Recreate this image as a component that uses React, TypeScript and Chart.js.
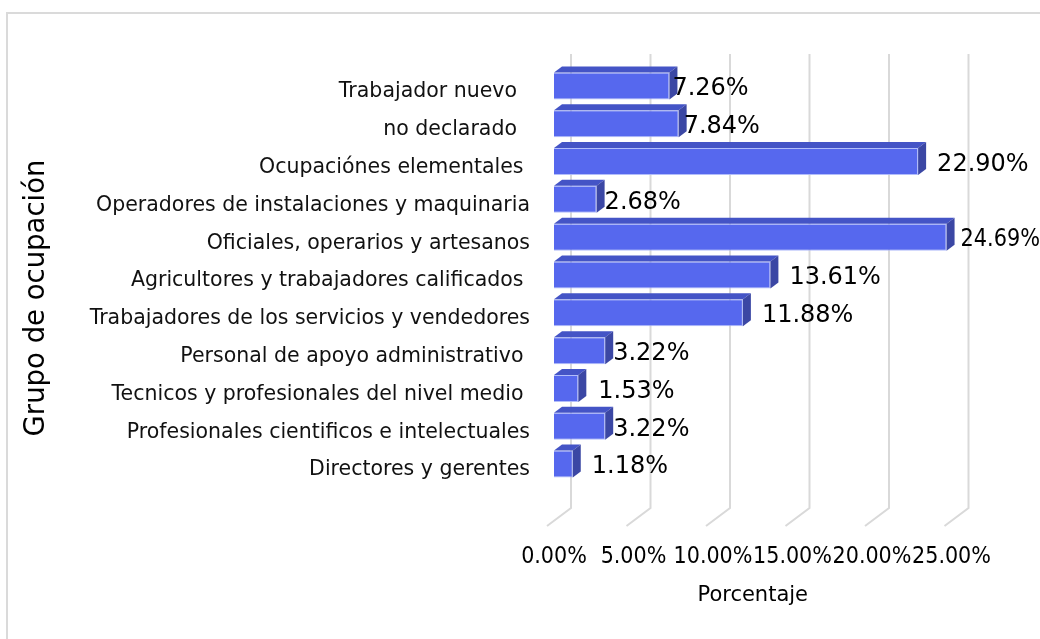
import { useEffect, useRef } from 'react';
import { Chart, registerables } from 'chart.js';

Chart.register(...registerables);

const categories = [
  'Trabajador nuevo  ',
  'no declarado  ',
  'Ocupaciónes elementales ',
  'Operadores de instalaciones y maquinaria',
  'Oficiales, operarios y artesanos',
  'Agricultores y trabajadores calificados ',
  'Trabajadores de los servicios y vendedores',
  'Personal de apoyo administrativo ',
  'Tecnicos y profesionales del nivel medio ',
  'Profesionales cientificos e intelectuales',
  'Directores y gerentes',
];

const percentages = [7.26, 7.84, 22.9, 2.68, 24.69, 13.61, 11.88, 3.22, 1.53, 3.22, 1.18];

const xTickValues = [0, 5, 10, 15, 20, 25];

const xTitle = 'Porcentaje';
const yTitle = 'Grupo de ocupación';

// label spacing after each bar end (style, mimics the reference's label placement)
const labelGap = [3, 5, 19, 8, 14, 19, 19, 8, 20, 8, 19];

const FRONT = '#5668EE';
const TOP = '#4454C6';
const SIDE = '#3B47A4';
const DX = 8;
const DY = 6;

const depthPlugin = {
  id: 'depth3d',
  beforeDatasetsDraw(chart: any) {
    const { ctx, chartArea, scales } = chart;
    const xs = scales.x;
    ctx.save();
    ctx.strokeStyle = '#d9d9d9';
    ctx.lineWidth = 2;
    xs.ticks.forEach((t: any) => {
      const xf = xs.getPixelForValue(t.value);
      const xb = xf + 17;
      ctx.beginPath();
      ctx.moveTo(xb, chartArea.top - 13);
      ctx.lineTo(xb, chartArea.bottom + 25);
      ctx.lineTo(xf - 7, chartArea.bottom + 43);
      ctx.stroke();
    });
    ctx.restore();
  },
  afterDatasetsDraw(chart: any) {
    const { ctx } = chart;
    const meta = chart.getDatasetMeta(0);
    ctx.save();
    meta.data.forEach((bar: any) => {
      const { x, y, base, height } = bar.getProps(['x', 'y', 'base', 'height'], true);
      const top = y - height / 2;
      const bottom = y + height / 2;
      ctx.fillStyle = TOP;
      ctx.beginPath();
      ctx.moveTo(base, top);
      ctx.lineTo(base + DX, top - DY);
      ctx.lineTo(x + DX, top - DY);
      ctx.lineTo(x, top);
      ctx.closePath();
      ctx.fill();
      ctx.fillStyle = SIDE;
      ctx.beginPath();
      ctx.moveTo(x, top);
      ctx.lineTo(x + DX, top - DY);
      ctx.lineTo(x + DX, bottom - DY);
      ctx.lineTo(x, bottom);
      ctx.closePath();
      ctx.fill();
    });
    ctx.fillStyle = '#000000';
    ctx.font = '24px "DejaVu Sans"';
    ctx.textBaseline = 'middle';
    ctx.textAlign = 'left';
    meta.data.forEach((bar: any, i: number) => {
      const { x, y } = bar.getProps(['x', 'y'], true);
      const v = chart.data.datasets[0].data[i] as number;
      const lx = x + labelGap[i];
      const txt = v.toFixed(2) + '%';
      const maxW = chart.width - lx;
      ctx.fillText(txt, lx, y + 3, maxW);
    });
    // y axis title
    ctx.save();
    ctx.translate(37, 298);
    ctx.rotate(-Math.PI / 2);
    ctx.textAlign = 'center';
    ctx.textBaseline = 'middle';
    ctx.font = '27.5px "DejaVu Sans"';
    ctx.fillStyle = '#000000';
    ctx.fillText(yTitle, 0, 0);
    ctx.restore();
    ctx.restore();
  },
};

export default function App() {
  const ref = useRef<HTMLCanvasElement | null>(null);
  useEffect(() => {
    document.body.style.margin = '0';
    const canvas = ref.current;
    if (!canvas) return;
    const chart = new Chart(canvas, {
      type: 'bar',
      data: {
        labels: categories,
        datasets: [
          {
            data: percentages,
            backgroundColor: FRONT,
            borderColor: 'rgba(170,182,250,0.9)',
            borderWidth: 1,
            barPercentage: 0.714,
            categoryPercentage: 1,
          },
        ],
      },
      options: {
        indexAxis: 'y',
        responsive: false,
        animation: false,
        layout: { padding: { left: 0, right: 88.5, top: 67, bottom: 0 } },
        plugins: {
          legend: { display: false },
          tooltip: { enabled: false },
        },
        scales: {
          x: {
            type: 'linear',
            min: 0,
            max: 25,
            afterFit: (s: any) => {
              s.height = 156;
              s.paddingLeft = 0;
              s.paddingRight = 0;
            },
            afterBuildTicks: (s: any) => {
              s.ticks = xTickValues.map((v) => ({ value: v }));
            },
            grid: { display: false, drawTicks: false },
            border: { display: false },
            ticks: {
              padding: 60,
              color: '#000000',
              font: { family: '"DejaVu Sans Condensed", "DejaVu Sans"', size: 23 },
              maxRotation: 0,
              autoSkip: false,
              callback: (v: any) => Number(v).toFixed(2) + '%',
            },
            title: {
              display: true,
              text: xTitle,
              color: '#000000',
              font: { family: '"DejaVu Sans"', size: 21 },
              padding: { top: 0, bottom: 31 },
            },
          },
          y: {
            type: 'category',
            afterFit: (s: any) => {
              s.width = 554;
            },
            grid: { display: false, drawTicks: false },
            border: { display: false },
            ticks: {
              padding: 24,
              labelOffset: 6,
              color: '#111111',
              autoSkip: false,
              font: { family: '"DejaVu Sans"', size: 20.5 },
            },
          },
        },
      },
      plugins: [depthPlugin],
    });
    return () => chart.destroy();
  }, []);

  return (
    <div style={{ position: 'relative', width: 1040, height: 639, overflow: 'hidden', background: '#ffffff' }}>
      <div
        style={{
          position: 'absolute',
          left: 6,
          top: 12,
          width: 1100,
          height: 700,
          border: '2px solid #dadada',
        }}
      />
      <canvas ref={ref} width={1040} height={639} style={{ position: 'absolute', left: 0, top: 0 }} />
    </div>
  );
}
